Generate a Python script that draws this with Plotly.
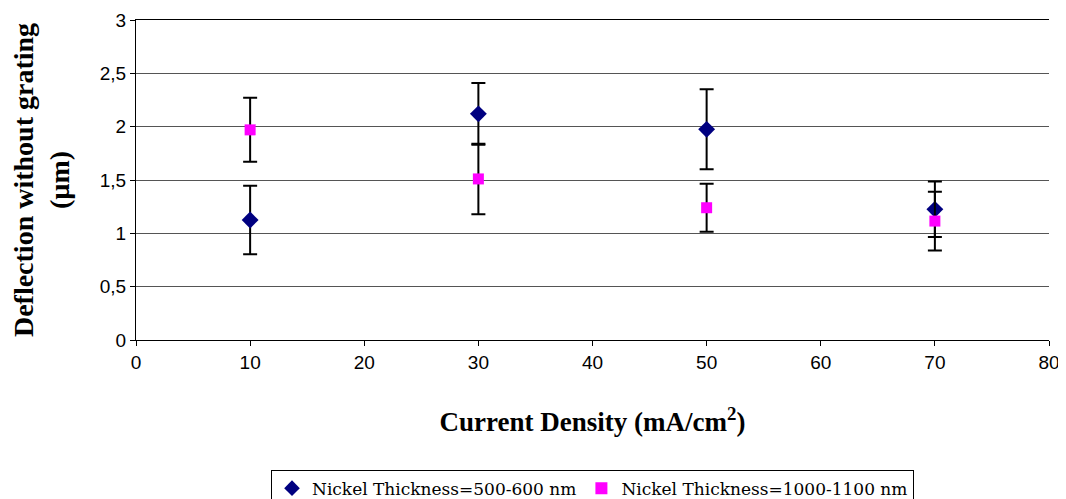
import plotly.graph_objects as go

current_density = [10, 30, 50, 70]
thin_values = [1.125, 2.12, 1.975, 1.225]
thin_errors = [0.32, 0.29, 0.375, 0.26]
thick_values = [1.97, 1.51, 1.24, 1.115]
thick_errors = [0.30, 0.33, 0.225, 0.275]
series_names = ["Nickel Thickness=500-600 nm", "Nickel Thickness=1000-1100 nm"]
y_tick_vals = [0, 0.5, 1, 1.5, 2, 2.5, 3]
y_tick_text = ["0", "0,5", "1", "1,5", "2", "2,5", "3"]
x_tick_vals = [0, 10, 20, 30, 40, 50, 60, 70, 80]

fig = go.Figure()
fig.add_trace(go.Scatter(
    x=current_density, y=thin_values, mode="markers", name=series_names[0],
    marker=dict(symbol="diamond", color="#000080", size=13),
    error_y=dict(type="data", array=thin_errors, color="black", thickness=2, width=7),
))
fig.add_trace(go.Scatter(
    x=current_density, y=thick_values, mode="markers", name=series_names[1],
    marker=dict(symbol="square", color="#FF00FF", size=11),
    error_y=dict(type="data", array=thick_errors, color="black", thickness=2, width=7),
))

fig.update_layout(
    width=1058, height=491,
    margin=dict(l=128, r=17, t=12, b=159, autoexpand=False),
    paper_bgcolor="white", plot_bgcolor="white",
    font=dict(family="Liberation Sans, Arial", size=19, color="black"),
    showlegend=True,
    legend=dict(
        orientation="h", x=0.5, xanchor="center", y=-0.405, yanchor="top",
        bordercolor="black", borderwidth=1,
        font=dict(family="DejaVu Serif", size=17),
        itemwidth=30, tracegroupgap=0, itemsizing="constant",
    ),
    xaxis=dict(
        range=[0, 80], tickvals=x_tick_vals, showgrid=False, zeroline=False,
        showline=True, linecolor="black", linewidth=1, automargin=False, mirror=True,
        ticks="outside", ticklen=5, tickcolor="black",
        title=dict(text="<b>Current Density (mA/cm<sup>2</sup>)</b>",
                   font=dict(family="Liberation Serif, Times New Roman", size=27),
                   standoff=40),
    ),
    yaxis=dict(
        range=[0, 3], tickvals=y_tick_vals, ticktext=y_tick_text,
        showgrid=True, gridcolor="#555555", gridwidth=1, zeroline=False,
        showline=True, linecolor="black", linewidth=1, automargin=False,
        ticks="outside", ticklen=5, tickcolor="black",
        title=dict(text="<b>Deflection without grating<br>(µm)</b>",
                   font=dict(family="Liberation Serif, Times New Roman", size=28),
                   standoff=40),
    ),
)

fig.write_html("out.html")
